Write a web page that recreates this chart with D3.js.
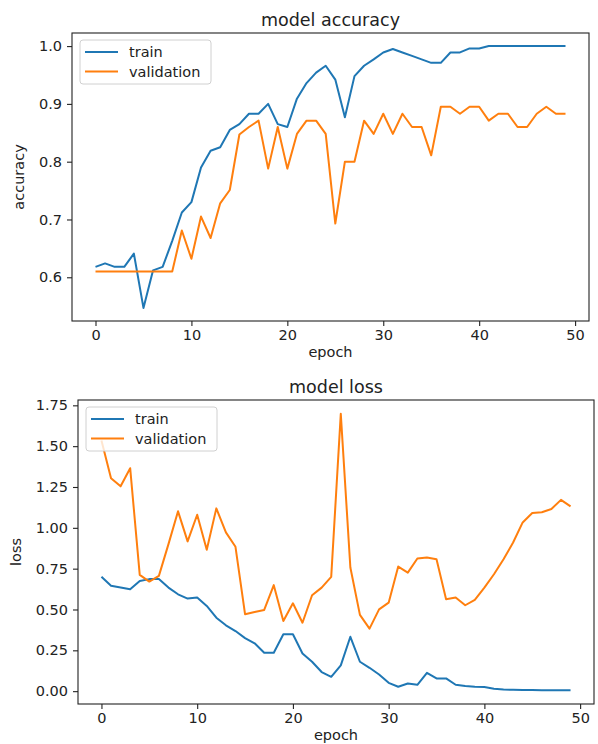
<!DOCTYPE html>
<html>
<head>
<meta charset="utf-8">
<script src="https://cdn.jsdelivr.net/npm/d3@7"></script>
<style>
    body { margin: 0; background: #fff; }
    svg { display: block; font-family: "DejaVu Sans", sans-serif; }
</style>
</head>
<body>
<div id="chart"></div>
<script>
const epochs = d3.range(50);

const accTrain = [0.618, 0.624, 0.618, 0.618, 0.641, 0.547, 0.612, 0.618, 0.663, 0.712,
    0.730, 0.790, 0.819, 0.825, 0.855, 0.865, 0.883, 0.883, 0.900, 0.865,
    0.860, 0.909, 0.936, 0.954, 0.966, 0.942, 0.877, 0.948, 0.966, 0.977,
    0.989, 0.995, 0.989, 0.983, 0.977, 0.971, 0.971, 0.989, 0.989, 0.996,
    0.996, 1.0, 1.0, 1.0, 1.0, 1.0, 1.0, 1.0, 1.0, 1.0];

const accVal = [0.610, 0.610, 0.610, 0.610, 0.610, 0.610, 0.610, 0.610, 0.610, 0.681,
    0.632, 0.705, 0.668, 0.728, 0.751, 0.847, 0.860, 0.871, 0.788, 0.860,
    0.788, 0.848, 0.871, 0.871, 0.848, 0.693, 0.800, 0.800, 0.871, 0.848,
    0.883, 0.848, 0.883, 0.860, 0.860, 0.811, 0.895, 0.895, 0.883, 0.895,
    0.895, 0.871, 0.883, 0.883, 0.860, 0.860, 0.883, 0.895, 0.883, 0.883];

const lossTrain = [0.700, 0.645, 0.634, 0.624, 0.675, 0.686, 0.686, 0.634, 0.593, 0.567,
    0.573, 0.522, 0.450, 0.403, 0.368, 0.325, 0.293, 0.235, 0.235, 0.348,
    0.348, 0.231, 0.180, 0.117, 0.088, 0.158, 0.333, 0.180, 0.143, 0.102,
    0.051, 0.027, 0.047, 0.039, 0.112, 0.078, 0.078, 0.039, 0.031, 0.027,
    0.025, 0.015, 0.010, 0.008, 0.007, 0.007, 0.006, 0.006, 0.006, 0.006];

const lossVal = [1.535, 1.303, 1.254, 1.365, 0.712, 0.671, 0.706, 0.900, 1.101, 0.917,
    1.080, 0.866, 1.119, 0.972, 0.884, 0.471, 0.485, 0.497, 0.649, 0.430,
    0.538, 0.419, 0.587, 0.634, 0.700, 1.698, 0.757, 0.467, 0.383, 0.501,
    0.542, 0.763, 0.726, 0.812, 0.818, 0.808, 0.563, 0.573, 0.526, 0.559,
    0.634, 0.716, 0.808, 0.910, 1.033, 1.091, 1.095, 1.115, 1.171, 1.131];

const xTicks = [0, 10, 20, 30, 40, 50];
const accTicks = [0.6, 0.7, 0.8, 0.9, 1.0];
const lossTicks = [0, 0.25, 0.5, 0.75, 1.0, 1.25, 1.5, 1.75];
const seriesNames = ['train', 'validation'];
const colors = ['#1f77b4', '#ff7f0e'];

const W = 598, H = 744;
const ink = '#222';

const svg = d3.select('#chart').append('svg')
    .attr('width', W)
    .attr('height', H);

// matplotlib style 5% margins around the data
function padded(lo, hi) {
    const m = (hi - lo) * 0.05;
    return [lo - m, hi + m];
}

function drawPanel(p) {
    const g = svg.append('g');
    const all = p.series.flat();

    const x = d3.scaleLinear()
        .domain(padded(0, epochs.length - 1))
        .range([p.left, p.right]);
    const y = d3.scaleLinear()
        .domain(padded(d3.min(all), d3.max(all)))
        .range([p.bottom, p.top]);

    // lines
    const line = d3.line()
        .x((d, i) => x(epochs[i]))
        .y(d => y(d));

    p.series.forEach((s, i) => {
        g.append('path')
            .datum(s)
            .attr('fill', 'none')
            .attr('stroke', colors[i])
            .attr('stroke-width', 2)
            .attr('stroke-linejoin', 'round')
            .attr('d', line);
    });

    // frame
    g.append('rect')
        .attr('x', p.left)
        .attr('y', p.top)
        .attr('width', p.right - p.left)
        .attr('height', p.bottom - p.top)
        .attr('fill', 'none')
        .attr('stroke', ink)
        .attr('stroke-width', 1.1);

    const xAxis = g.append('g')
        .attr('transform', `translate(0,${p.bottom})`)
        .call(d3.axisBottom(x).tickValues(xTicks).tickFormat(d3.format('d')).tickSize(5).tickPadding(4));
    const yAxis = g.append('g')
        .attr('transform', `translate(${p.left},0)`)
        .call(d3.axisLeft(y).tickValues(p.yTicks).tickFormat(d3.format(p.yFormat)).tickSize(5).tickPadding(5));

    [xAxis, yAxis].forEach(a => {
        a.select('.domain').remove();
        a.selectAll('line').attr('stroke', ink).attr('stroke-width', 1.1);
        a.selectAll('text')
            .attr('fill', ink)
            .style('font-size', '14.5px')
            .style('font-family', '"DejaVu Sans", sans-serif');
    });

    // title and axis labels
    g.append('text')
        .attr('x', (p.left + p.right) / 2)
        .attr('y', p.top - 7.5)
        .attr('text-anchor', 'middle')
        .attr('fill', ink)
        .style('font-size', '17.5px')
        .text(p.title);

    g.append('text')
        .attr('x', (p.left + p.right) / 2)
        .attr('y', p.bottom + 36)
        .attr('text-anchor', 'middle')
        .attr('fill', ink)
        .style('font-size', '14.5px')
        .text('epoch');

    g.append('text')
        .attr('transform', `translate(${p.yLabelX},${(p.top + p.bottom) / 2}) rotate(-90)`)
        .attr('text-anchor', 'middle')
        .attr('fill', ink)
        .style('font-size', '14.5px')
        .text(p.yLabel);

    // legend
    const lx = p.left + 8, ly = p.top + 7;
    g.append('rect')
        .attr('x', lx)
        .attr('y', ly)
        .attr('width', 131)
        .attr('height', 44)
        .attr('rx', 3)
        .attr('fill', 'rgba(255,255,255,0.8)')
        .attr('stroke', '#d0d0d0')
        .attr('stroke-width', 1);

    seriesNames.forEach((name, i) => {
        const yy = ly + 12 + i * 19.5;
        g.append('line')
            .attr('x1', lx + 5)
            .attr('x2', lx + 38)
            .attr('y1', yy)
            .attr('y2', yy)
            .attr('stroke', colors[i])
            .attr('stroke-width', 2);
        g.append('text')
            .attr('x', lx + 49)
            .attr('y', yy + 5)
            .attr('fill', ink)
            .style('font-size', '14.5px')
            .text(name);
    });
}

drawPanel({
    title: 'model accuracy',
    yLabel: 'accuracy',
    yLabelX: 24,
    series: [accTrain, accVal],
    yTicks: accTicks,
    yFormat: '.1f',
    left: 72, right: 589, top: 33, bottom: 321
});

drawPanel({
    title: 'model loss',
    yLabel: 'loss',
    yLabelX: 21,
    series: [lossTrain, lossVal],
    yTicks: lossTicks,
    yFormat: '.2f',
    left: 78, right: 594, top: 400, bottom: 704
});
</script>
</body>
</html>
